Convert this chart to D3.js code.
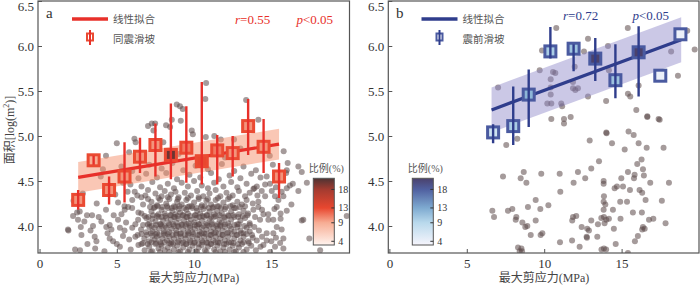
<!DOCTYPE html>
<html>
<head>
<meta charset="utf-8">
<script src="https://cdn.jsdelivr.net/npm/d3@7"></script>
<style>
  body { margin: 0; background: #fff; }
  text { font-family: "Liberation Serif", "Noto Sans CJK SC", serif; }
</style>
</head>
<body>
<script>
// ---- data ----
var xTicks = [0, 5, 10, 15];
var yTicks = [4.0, 4.5, 5.0, 5.5, 6.0, 6.5];
var cbTicks = [4, 9, 13, 18];

// (a) co-seismic landslides, binned means
var coBinX   = [2.5, 3.5, 4.5, 5.5, 6.5, 7.5, 8.5, 9.5, 10.5, 11.5, 12.5, 13.5, 14.5, 15.5];
var coBinY   = [4.29, 4.73, 4.40, 4.55, 4.77, 4.90, 4.79, 4.87, 4.72, 4.84, 4.81, 5.11, 4.88, 4.55];
var coErrLo  = [4.18, 4.68, 4.24, 4.26, 4.59, 4.55, 4.52, 4.48, 4.46, 4.46, 4.55, 4.79, 4.59, 4.31];
var coErrHi  = [4.40, 4.78, 4.55, 4.93, 4.98, 5.14, 5.36, 5.33, 5.60, 5.01, 5.00, 5.41, 5.19, 4.70];
var coRatio  = [10, 9, 10, 10, 10, 10, 20, 11, 13, 11, 10, 10, 10, 10];
var coFitX   = [2.5, 15.5];
var coFitY   = [4.54, 4.91];
var coBand   = 0.17;

// (b) pre-seismic landslides, binned means
var preBinX  = [6.7, 8.0, 9.0, 10.4, 11.9, 13.3, 14.6, 16.1, 17.5, 18.8];
var preBinY  = [5.04, 5.11, 5.46, 5.94, 5.97, 5.86, 5.62, 5.93, 5.67, 6.13];
var preErrLo = [4.92, 4.90, 5.10, 5.86, 5.72, 5.61, 5.42, 5.44, 5.67, 6.13];
var preErrHi = [5.13, 5.55, 5.74, 6.21, 6.02, 6.09, 6.02, 6.22, 5.67, 6.13];
var preRatio = [7, 10, 12, 10, 11, 21, 11, 21, 4, 4];
var preFitX  = [6.6, 18.85];
var preFitY  = [5.29, 6.07];
var preBand  = 0.25;

// individual landslides (max shear stress, log area)
var coDots = [
  [5.0,4.92],[6.14,4.97],[6.22,4.93],[7.26,5.14],[7.48,5.14],[7.37,5.06],[8.19,5.12],[8.45,5.10],[8.56,5.18],
  [8.88,5.35],[9.09,5.33],[9.27,5.30],[9.14,5.17],[9.85,5.06],[9.92,5.02],[10.78,5.59],[10.73,5.41],[10.76,4.99],
  [11.31,5.00],[11.73,4.96],[12.59,4.96],[13.37,5.40],[14.16,5.18],[8.01,4.93],[7.02,5.11],[4.3,4.78],[5.8,4.82],
  [9.0,4.80],[12.0,4.76],[13.0,4.86],[14.9,4.78],[15.8,4.83],
  [4.1,4.63],[5.3,4.66],[6.0,4.61],[7.1,4.68],[7.9,4.64],[8.6,4.70],[9.3,4.62],[10.1,4.67],[10.9,4.63],[11.8,4.69],
  [12.6,4.61],[13.2,4.66],[14.0,4.62],[15.1,4.68],[16.06,4.70],[16.75,4.66],
  [3.96,4.55],[5.6,4.57],[6.4,4.53],[6.9,4.58],[7.6,4.54],[8.2,4.59],[8.9,4.52],[9.7,4.57],[10.4,4.54],[11.1,4.59],
  [11.6,4.52],[12.3,4.56],[13.0,4.53],[13.7,4.58],[14.3,4.54],[14.7,4.55],[15.42,4.58],[15.52,4.52],[16.0,4.62],
  [15.96,4.59],[16.97,4.60],
  [4.5,4.45],[5.4,4.48],[5.88,4.46],[6.6,4.44],[7.3,4.49],[7.8,4.43],[8.3,4.47],[8.7,4.42],[9.2,4.48],[9.6,4.44],
  [10.0,4.50],[10.5,4.45],[10.9,4.42],[11.3,4.48],[11.9,4.44],[12.4,4.49],[12.8,4.43],[13.4,4.47],[13.9,4.42],
  [14.92,4.47],[14.6,4.46],[15.3,4.43],[16.2,4.45],[17.3,4.48],[16.39,4.47],[13.84,4.41],[14.06,4.44],[15.67,4.38],
  [16.0,4.42],[4.9,4.35],
  [2.8,4.36],[5.7,4.38],[6.16,4.38],[6.33,4.34],[6.59,4.32],[6.85,4.34],[7.02,4.40],[7.5,4.36],[7.9,4.33],[8.1,4.39],
  [8.5,4.35],[8.8,4.38],[9.0,4.32],[9.4,4.37],[9.8,4.34],[10.2,4.39],[10.6,4.33],[11.0,4.36],[11.4,4.40],[11.7,4.33],
  [12.1,4.37],[12.5,4.34],[12.9,4.39],[13.3,4.33],[13.6,4.37],[14.1,4.34],[14.38,4.39],[14.6,4.33],[15.03,4.39],
  [15.24,4.33],[15.78,4.33],[16.75,4.39],
  [7.7,4.31],[8.3,4.32],[8.95,4.30],[9.6,4.31],[10.3,4.32],[10.9,4.30],[11.55,4.31],[12.3,4.32],
  [2.2,4.28],[3.7,4.25],[5.08,4.26],[5.5,4.22],[6.0,4.29],[6.7,4.24],[7.02,4.30],[7.24,4.27],[7.6,4.23],[7.8,4.29],
  [8.2,4.25],[8.4,4.30],[8.7,4.22],[8.9,4.27],[9.2,4.24],[9.5,4.29],[9.7,4.22],[10.0,4.26],[10.3,4.30],[10.5,4.23],
  [10.8,4.28],[11.1,4.24],[11.4,4.29],[11.6,4.22],[11.9,4.26],[12.2,4.30],[12.5,4.23],[12.8,4.27],[13.1,4.24],
  [13.4,4.29],[13.8,4.25],[14.16,4.27],[14.16,4.21],[15.46,4.29],[15.35,4.21],[16.3,4.24],
  [7.15,4.21],[7.4,4.20],[7.65,4.22],[7.95,4.21],[8.25,4.22],[8.55,4.20],[8.8,4.21],[9.05,4.22],[9.35,4.20],
  [9.6,4.21],[9.85,4.22],[10.15,4.20],[10.45,4.21],[10.7,4.22],[10.95,4.20],[11.25,4.21],[11.5,4.22],[11.75,4.20],
  [12.05,4.21],[12.35,4.22],[12.6,4.20],[12.95,4.21],[13.3,4.22],
  [2.43,4.15],[2.6,4.16],[3.07,4.12],[3.4,4.12],[4.3,4.18],[5.3,4.13],[5.51,4.18],[5.73,4.21],[5.99,4.20],[6.4,4.15],
  [6.59,4.14],[7.24,4.16],[7.46,4.21],[7.7,4.13],[7.9,4.18],[8.1,4.14],[8.3,4.20],[8.5,4.12],[8.6,4.17],[8.8,4.13],
  [9.0,4.19],[9.1,4.15],[9.3,4.12],[9.5,4.18],[9.6,4.14],[9.9,4.20],[10.1,4.12],[10.2,4.17],[10.4,4.14],[10.6,4.19],
  [10.8,4.12],[11.0,4.16],[11.2,4.20],[11.3,4.13],[11.5,4.17],[11.8,4.14],[12.0,4.19],[12.2,4.12],[12.4,4.16],
  [12.7,4.20],[12.9,4.13],[13.2,4.17],[13.5,4.14],[13.84,4.18],[14.49,4.13],[14.4,4.18],[14.8,4.13],[15.2,4.19],
  [15.6,4.14],[16.0,4.17],
  [6.8,4.11],[7.05,4.10],[7.35,4.12],[7.6,4.11],[7.9,4.10],[8.15,4.11],[8.45,4.12],[8.75,4.10],[8.95,4.11],
  [9.25,4.12],[9.55,4.10],[9.75,4.11],[10.05,4.12],[10.35,4.10],[10.55,4.11],[10.85,4.12],[11.1,4.10],[11.4,4.11],
  [11.65,4.12],[11.95,4.10],[12.25,4.11],[12.55,4.12],[12.85,4.10],[13.15,4.11],[13.45,4.12],
  [2.17,4.11],[2.49,4.07],[3.83,4.10],[4.0,4.05],[4.54,4.01],[5.08,4.07],[5.6,4.04],[6.2,4.02],[6.38,4.07],[6.91,4.09],
  [7.1,4.03],[7.3,4.08],[7.5,4.05],[7.7,4.10],[7.85,4.02],[8.0,4.06],[8.2,4.09],[8.35,4.03],[8.5,4.07],[8.7,4.10],
  [8.85,4.04],[9.0,4.08],[9.2,4.02],[9.35,4.06],[9.5,4.10],[9.65,4.03],[9.8,4.07],[10.0,4.04],[10.15,4.09],[10.3,4.02],
  [10.5,4.06],[10.65,4.10],[10.8,4.03],[11.0,4.08],[11.15,4.04],[11.3,4.10],[11.5,4.02],[11.65,4.07],[11.8,4.04],
  [12.0,4.09],[12.2,4.03],[12.4,4.07],[12.6,4.10],[12.8,4.02],[13.0,4.06],[13.3,4.09],[13.6,4.03],[13.95,4.10],
  [14.27,4.07],[14.81,4.07],[15.13,4.07],[15.6,4.08],[16.97,4.06],[17.07,4.07],[19.88,4.11],[2.9,4.05],[4.8,4.12],
  [6.7,4.01],[7.0,4.02],[7.25,4.00],[7.55,4.01],[7.8,4.02],[8.1,4.00],[8.4,4.01],[8.65,4.02],[8.95,4.00],[9.2,4.01],
  [9.5,4.02],[9.75,4.00],[10.05,4.01],[10.3,4.02],[10.6,4.00],[10.85,4.01],[11.15,4.02],[11.45,4.00],[11.7,4.01],
  [12.0,4.02],[12.3,4.00],[12.6,4.01],[12.9,4.02],[13.25,4.00],[13.6,4.01],
  [1.84,3.96],[1.87,3.95],[2.67,3.99],[3.3,3.95],[3.46,4.00],[4.32,3.99],[4.4,3.92],[4.65,3.96],[5.2,3.98],[5.5,3.95],
  [6.0,3.98],[6.57,3.96],[6.9,3.93],[7.1,3.99],[7.3,3.94],[7.45,3.98],[7.6,3.92],[7.75,3.97],[7.9,4.00],[8.05,3.94],
  [8.2,3.98],[8.4,3.93],[8.55,3.97],[8.7,4.00],[8.85,3.95],[9.0,3.99],[9.15,3.92],[9.3,3.96],[9.45,4.00],[9.6,3.94],
  [9.75,3.98],[9.9,3.93],[10.05,3.97],[10.2,4.00],[10.35,3.94],[10.5,3.98],[10.65,3.92],[10.8,3.96],[10.95,4.00],
  [11.1,3.94],[11.25,3.98],[11.4,3.93],[11.55,3.97],[11.7,4.00],[11.85,3.95],[12.0,3.99],[12.2,3.93],[12.4,3.97],
  [12.6,3.94],[12.8,3.99],[13.0,3.95],[13.2,3.92],[13.4,3.98],[13.6,3.94],[13.9,3.99],[14.2,3.95],[14.7,3.92],
  [15.13,3.92],[15.35,3.99],[15.67,3.96],
  [6.6,3.91],[6.95,3.90],[7.2,3.92],[7.5,3.91],[7.75,3.90],[8.05,3.92],[8.3,3.91],[8.6,3.90],[8.85,3.92],[9.1,3.91],
  [9.4,3.90],[9.65,3.92],[9.95,3.91],[10.25,3.90],[10.5,3.92],[10.75,3.91],[11.05,3.90],[11.3,3.92],[11.6,3.91],
  [11.85,3.90],[12.15,3.92],[12.45,3.91],[12.75,3.90],[13.05,3.92],[13.4,3.91],[13.75,3.90],
  [2.71,3.90],[3.57,3.88],[3.68,3.83],[4.54,3.86],[4.76,3.83],[5.4,3.89],[5.8,3.85],[6.2,3.88],[6.35,3.90],[6.78,3.86],
  [7.09,3.83],[7.3,3.89],[7.45,3.85],[7.6,3.88],[7.8,3.82],[7.95,3.86],[8.1,3.90],[8.25,3.84],[8.4,3.88],[8.55,3.82],
  [8.7,3.86],[8.85,3.90],[9.0,3.84],[9.15,3.88],[9.3,3.82],[9.45,3.86],[9.6,3.90],[9.75,3.84],[9.9,3.88],[10.05,3.82],
  [10.2,3.86],[10.35,3.90],[10.5,3.84],[10.65,3.88],[10.8,3.82],[10.95,3.86],[11.1,3.90],[11.25,3.84],[11.4,3.88],
  [11.55,3.82],[11.7,3.86],[11.85,3.90],[12.0,3.84],[12.2,3.88],[12.4,3.82],[12.6,3.86],[12.8,3.90],[13.0,3.84],
  [13.2,3.88],[13.5,3.83],[13.8,3.87],[14.06,3.84],[14.4,3.88],[14.7,3.84],[15.0,3.83],[15.3,3.87],[15.78,3.86],
  [15.57,3.81],[17.46,3.86],[17.94,3.83],[3.1,3.80],[5.0,3.80],[6.6,3.80],
  [6.7,3.81],[7.0,3.80],[7.25,3.82],[7.55,3.81],[7.85,3.80],[8.1,3.82],[8.4,3.81],[8.65,3.80],[8.95,3.82],[9.2,3.81],
  [9.5,3.80],[9.75,3.82],[10.0,3.81],[10.3,3.80],[10.55,3.82],[10.85,3.81],[11.1,3.80],[11.4,3.82],[11.65,3.81],
  [11.95,3.80],[12.25,3.82],[12.55,3.81],[12.85,3.80],[13.2,3.82],[13.55,3.81],
  [2.3,3.74],[2.62,3.73],[3.6,3.75],[4.2,3.72],[5.2,3.77],[5.9,3.74],[6.4,3.79],[6.8,3.73],[7.1,3.77],[7.3,3.72],
  [7.5,3.80],[7.7,3.75],[7.9,3.78],[8.1,3.73],[8.3,3.76],[8.5,3.80],[8.7,3.74],[8.9,3.78],[9.1,3.72],[9.3,3.76],
  [9.5,3.80],[9.7,3.74],[9.9,3.78],[10.1,3.72],[10.3,3.76],[10.5,3.79],[10.7,3.73],[10.9,3.77],[11.1,3.80],[11.3,3.74],
  [11.5,3.78],[11.7,3.72],[11.9,3.76],[12.1,3.80],[12.3,3.74],[12.5,3.78],[12.7,3.72],[12.9,3.76],[13.1,3.80],
  [13.4,3.74],[13.7,3.78],[14.0,3.73],[14.3,3.77],[14.49,3.79],[14.92,3.71],[15.24,3.77],[15.78,3.75],[18.16,3.73],
  [7.2,3.71],[7.8,3.71],[8.4,3.71],[9.0,3.71],[9.6,3.71],[10.2,3.71],[10.8,3.71],[11.4,3.71],[12.0,3.71],[12.6,3.71],
  [13.2,3.71]
];

var preDots = [
  [7.55,4.90],[8.26,4.97],[10.46,5.19],[11.28,5.19],[11.28,5.14],[11.71,5.21],[16.66,5.22],[17.46,5.18],[14.01,5.04],
  [14.03,5.03],[15.45,5.05],[15.78,5.01],[12.94,4.95],[14.38,4.92],[15.2,4.85],[16.1,4.92],[16.62,4.87],[17.71,4.87],
  [13.54,4.72],[16.01,4.69],[16.29,4.74],[7.34,4.55],[8.68,4.60],[8.48,4.53],[8.85,4.48],[9.81,4.58],[11.0,4.58],
  [11.04,4.38],[12.18,4.60],[13.04,4.64],[12.65,4.53],[11.9,4.48],[13.84,4.50],[13.84,4.47],[14.98,4.53],[15.41,4.60],
  [15.84,4.57],[16.38,4.63],[16.44,4.56],[15.8,4.53],[16.85,4.48],[18.06,4.48],[14.55,4.42],[14.7,4.44],[15.09,4.44],
  [15.54,4.40],[16.16,4.40],[16.33,4.37],[13.86,4.33],[6.65,4.17],[6.76,4.10],[7.66,4.17],[7.94,4.19],[8.2,4.10],
  [8.16,4.07],[8.59,4.04],[8.78,3.99],[8.91,4.00],[8.95,4.21],[9.45,4.29],[9.75,4.19],[9.45,4.06],[10.27,4.23],
  [9.13,3.90],[9.77,3.90],[9.88,3.92],[11.02,3.82],[11.81,4.06],[11.86,4.10],[12.07,4.11],[12.42,3.99],[11.8,3.84],
  [12.29,3.77],[12.78,3.97],[12.89,3.95],[12.74,3.88],[12.76,3.87],[13.04,4.06],[13.47,4.02],[13.43,3.88],[13.69,4.09],
  [13.86,4.10],[14.01,4.07],[13.9,4.03],[14.18,4.08],[14.5,3.97],[14.93,4.08],[14.62,3.80],[13.84,4.18],[14.44,4.18],
  [13.84,4.27],[13.95,4.24],[14.91,4.27],[15.35,4.27],[15.73,4.15],[16.31,4.15],[16.55,4.29],[17.6,4.28],[16.77,4.07],
  [17.05,4.08],[16.38,3.99],[16.49,3.97],[16.33,3.96],[17.84,4.03],[16.05,3.89],[15.86,3.83],[13.7,3.74],[13.86,3.75],
  [14.0,3.74],[15.41,3.70],[8.31,3.76],[8.53,3.75],[8.42,3.72],[8.57,3.72],
  [7.02,5.54],[9.71,5.73],[9.86,5.95],[10.78,6.20],[10.57,5.71],[10.72,5.70],[10.42,5.63],[10.42,5.54],[10.42,5.46],
  [10.2,5.36],[10.46,5.36],[11.1,5.36],[11.16,5.33],[11.86,5.53],[12.01,5.51],[12.18,5.53],[11.86,5.60],[11.97,5.77],
  [12.83,6.08],[12.57,5.94],[14.12,6.00],[14.18,5.73],[14.0,5.39],[12.83,5.44],[15.41,5.47],[15.56,5.44],[16.1,5.56],
  [15.95,5.29],[15.4,6.20],[18.2,5.94],[18.64,5.67],[19.24,6.17],[19.72,5.96],[16.66,5.21],[17.39,5.19]
];

// ---- layout ----
var W = 700, H = 286;
var plotTop = 1, plotBottom = 253;

var svg = d3.select("body").append("svg")
    .attr("width", W)
    .attr("height", H);

var panels = [
  {
    left: 38, right: 349.5, xDomain: [-0.1, 20.06],
    binX: coBinX, binY: coBinY, errLo: coErrLo, errHi: coErrHi, ratio: coRatio,
    fitX: coFitX, fitY: coFitY, band: coBand, dots: coDots,
    lineColor: "#e8302a", boxColor: "#ea4a32", bandColor: "#f58f6c", bandOpacity: 0.5,
    cmap: ["#fff3ee", "#f7ad94", "#e8472f", "#a33b30", "#4d3333"],
    letter: "a", name: "同震滑坡", r: "0.55",
    rX: 235, pX: 296.5, statY: 19, cbX: 313.3, letterX: 46,
    legX: 72, yLabel: true, xLabelX: 194
  },
  {
    left: 388.3, right: 699, xDomain: [-0.07, 20.0],
    binX: preBinX, binY: preBinY, errLo: preErrLo, errHi: preErrHi, ratio: preRatio,
    fitX: preFitX, fitY: preFitY, band: preBand, dots: preDots,
    lineColor: "#2f3d8c", boxColor: "#4a5aa0", bandColor: "#8b86c8", bandOpacity: 0.45,
    cmap: ["#f6f5fc", "#b9d9ec", "#7eaad0", "#5060a0", "#4a416c"],
    letter: "b", name: "震前滑坡", r: "0.72",
    rX: 563, pX: 632.5, statY: 15, cbX: 412.3, letterX: 396,
    legX: 421.5, yLabel: false, xLabelX: 544
  }
];

var defs = svg.append("defs");

panels.forEach(function (p, i) {
  var xScale = d3.scaleLinear().domain(p.xDomain).range([p.left, p.right]);
  var yScale = d3.scaleLinear().domain([3.7, 6.5]).range([plotBottom, plotTop]);
  var color = d3.scaleLinear().domain([3, 9, 13, 18, 21]).range(p.cmap);

  defs.append("clipPath").attr("id", "clip" + i)
    .append("rect")
    .attr("x", p.left).attr("y", plotTop)
    .attr("width", p.right - p.left).attr("height", plotBottom - plotTop);

  var g = svg.append("g").attr("clip-path", "url(#clip" + i + ")");

  // scatter of individual landslides (translucent, so dense areas darken)
  g.selectAll(".dot")
    .data(p.dots)
    .enter().append("circle")
    .attr("class", "dot")
    .attr("cx", function (d) { return xScale(d[0]); })
    .attr("cy", function (d) { return yScale(d[1]); })
    .attr("r", 3)
    .attr("fill", "#5b4949")
    .attr("fill-opacity", 0.55);

  // confidence band
  var bandPts = [
    [p.fitX[0], p.fitY[0] + p.band], [p.fitX[1], p.fitY[1] + p.band],
    [p.fitX[1], p.fitY[1] - p.band], [p.fitX[0], p.fitY[0] - p.band]
  ];
  g.append("path")
    .attr("d", d3.line()
      .x(function (d) { return xScale(d[0]); })
      .y(function (d) { return yScale(d[1]); })(bandPts) + "Z")
    .attr("fill", p.bandColor)
    .attr("fill-opacity", p.bandOpacity);

  // fit line
  g.append("line")
    .attr("x1", xScale(p.fitX[0])).attr("y1", yScale(p.fitY[0]))
    .attr("x2", xScale(p.fitX[1])).attr("y2", yScale(p.fitY[1]))
    .attr("stroke", p.lineColor)
    .attr("stroke-width", 3.2);

  // binned means: boxes then error bars on top
  var bins = p.binX.map(function (v, k) {
    return { x: v, y: p.binY[k], lo: p.errLo[k], hi: p.errHi[k], ratio: p.ratio[k] };
  });

  g.selectAll(".box")
    .data(bins)
    .enter().append("rect")
    .attr("class", "box")
    .attr("x", function (d) { return xScale(d.x) - 5.5; })
    .attr("y", function (d) { return yScale(d.y) - 5.5; })
    .attr("width", 11)
    .attr("height", 11)
    .attr("fill", function (d) { return color(d.ratio); })
    .attr("stroke", p.boxColor)
    .attr("stroke-width", 3);

  g.selectAll(".err")
    .data(bins.filter(function (d) { return d.hi > d.lo; }))
    .enter().append("line")
    .attr("class", "err")
    .attr("x1", function (d) { return xScale(d.x); })
    .attr("x2", function (d) { return xScale(d.x); })
    .attr("y1", function (d) { return yScale(d.lo); })
    .attr("y2", function (d) { return yScale(d.hi); })
    .attr("stroke", p.lineColor)
    .attr("stroke-width", 2.4);

  // axes, ticks pointing inward
  var xAxis = svg.append("g")
    .attr("transform", "translate(0," + plotBottom + ")")
    .call(d3.axisBottom(xScale).tickValues(xTicks).tickSize(-4).tickPadding(6));
  var yAxis = svg.append("g")
    .attr("transform", "translate(" + p.left + ",0)")
    .call(d3.axisLeft(yScale).tickValues(yTicks).tickSize(-4).tickPadding(4).tickFormat(d3.format(".1f")));

  [xAxis, yAxis].forEach(function (ax) {
    ax.select(".domain").remove();
    ax.selectAll("line").attr("stroke", "#555");
    ax.selectAll("text")
      .attr("fill", "#333")
      .style("font-size", "13px")
      .style("font-family", "'Liberation Serif', serif");
  });
  // top label would be cut by the edge
  yAxis.selectAll(".tick").filter(function (d) { return d === 6.5; })
    .select("text").attr("dy", "0.75em");

  // frame
  svg.append("rect")
    .attr("x", p.left).attr("y", plotTop)
    .attr("width", p.right - p.left).attr("height", plotBottom - plotTop)
    .attr("fill", "none")
    .attr("stroke", "#555")
    .attr("stroke-width", 1.2);

  // panel letter
  svg.append("text")
    .attr("x", p.letterX).attr("y", 18)
    .text(p.letter)
    .attr("fill", "#333")
    .style("font-size", "15px");

  // legend
  svg.append("line")
    .attr("x1", p.legX).attr("x2", p.legX + 36)
    .attr("y1", 19).attr("y2", 19)
    .attr("stroke", p.lineColor)
    .attr("stroke-width", 3.4);
  svg.append("text")
    .attr("x", p.legX + 41).attr("y", 19)
    .attr("dominant-baseline", "central")
    .text("线性拟合")
    .attr("fill", "#555")
    .style("font-size", "10.5px");
  var ix = p.legX + 18;
  svg.append("rect")
    .attr("x", ix - 3).attr("y", 33.5)
    .attr("width", 6).attr("height", 7)
    .attr("fill", "#fff")
    .attr("stroke", p.boxColor)
    .attr("stroke-width", 2);
  svg.append("line")
    .attr("x1", ix).attr("x2", ix)
    .attr("y1", 30).attr("y2", 45)
    .attr("stroke", p.lineColor)
    .attr("stroke-width", 2);
  svg.append("text")
    .attr("x", p.legX + 41).attr("y", 39)
    .attr("dominant-baseline", "central")
    .text(p.name)
    .attr("fill", "#555")
    .style("font-size", "10.5px");

  // r and p
  var rt = svg.append("text")
    .attr("x", p.rX).attr("y", p.statY)
    .attr("dominant-baseline", "central")
    .attr("fill", p.lineColor)
    .style("font-size", "13px");
  rt.append("tspan").style("font-style", "italic").text("r");
  rt.append("tspan").text("=" + p.r);
  var pt = svg.append("text")
    .attr("x", p.pX).attr("y", p.statY)
    .attr("dominant-baseline", "central")
    .attr("fill", p.lineColor)
    .style("font-size", "13px");
  pt.append("tspan").style("font-style", "italic").text("p");
  pt.append("tspan").text("<0.05");

  // colour bar
  var cbY = d3.scaleLinear().domain([3, 21]).range([245, 178.3]);
  var grad = defs.append("linearGradient")
    .attr("id", "grad" + i)
    .attr("x1", 0).attr("x2", 0).attr("y1", 1).attr("y2", 0);
  color.domain().forEach(function (v) {
    grad.append("stop")
      .attr("offset", (v - 3) / 18)
      .attr("stop-color", color(v));
  });
  svg.append("rect")
    .attr("x", p.cbX).attr("y", cbY(21))
    .attr("width", 21).attr("height", cbY(3) - cbY(21))
    .attr("fill", "url(#grad" + i + ")")
    .attr("stroke", "#555")
    .attr("stroke-width", 1);
  svg.selectAll(".cbt" + i)
    .data(cbTicks)
    .enter().append("line")
    .attr("x1", p.cbX + 18).attr("x2", p.cbX + 21)
    .attr("y1", function (d) { return cbY(d); })
    .attr("y2", function (d) { return cbY(d); })
    .attr("stroke", "#333");
  svg.selectAll(".cbl" + i)
    .data(cbTicks)
    .enter().append("text")
    .attr("x", p.cbX + 25)
    .attr("y", function (d) { return cbY(d); })
    .attr("dominant-baseline", "central")
    .text(function (d) { return d; })
    .attr("fill", "#333")
    .style("font-size", "10px");
  svg.append("text")
    .attr("x", p.cbX + 13).attr("y", 168)
    .attr("text-anchor", "middle")
    .attr("dominant-baseline", "central")
    .text("比例(%)")
    .attr("fill", "#555")
    .style("font-size", "10px");

  // axis titles
  svg.append("text")
    .attr("x", p.xLabelX).attr("y", 278)
    .attr("text-anchor", "middle")
    .attr("dominant-baseline", "central")
    .text("最大剪应力(MPa)")
    .attr("fill", "#444")
    .style("font-size", "12px");
  if (p.yLabel) {
    var yl = svg.append("text")
      .attr("transform", "translate(10,130) rotate(-90)")
      .attr("text-anchor", "middle")
      .attr("dominant-baseline", "central")
      .attr("fill", "#444")
      .style("font-size", "12px");
    yl.append("tspan").text("面积[log(m");
    yl.append("tspan").attr("dy", -4).style("font-size", "8px").text("2");
    yl.append("tspan").attr("dy", 4).text(")]");
  }
});
</script>
</body>
</html>
